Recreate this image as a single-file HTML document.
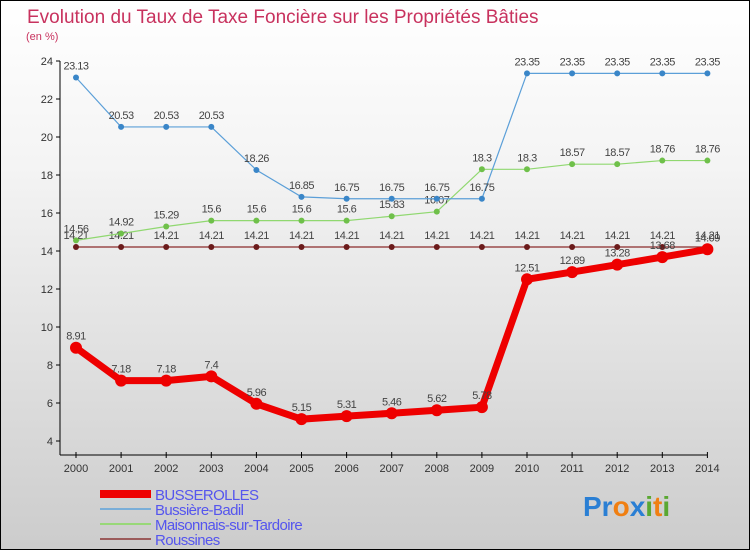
<!DOCTYPE html>
<html><head><meta charset="utf-8"><style>
body{margin:0;width:750px;height:550px;overflow:hidden;font-family:"Liberation Sans",sans-serif}
#wrap{position:absolute;left:0;top:0;width:748px;height:548px;border:1px solid #000;background:linear-gradient(#ffffff,#f4f4f4 30%,#cccccc)}
</style></head><body>
<div id="wrap">
<svg id="chart" width="750" height="550" style="position:absolute;left:-1px;top:-1px">
<text x="27" y="23" font-size="19" fill="#c8325e">Evolution du Taux de Taxe Foncière sur les Propriétés Bâties</text>
<text x="26" y="40" font-size="11" fill="#c8325e">(en %)</text>
<g id="axes"></g><g id="series"></g><g id="legend"></g>
<text x="583" y="516" font-size="28" font-weight="bold"><tspan fill="#2a7fd4">Pr</tspan><tspan fill="#f07f12">o</tspan><tspan fill="#2a7fd4">x</tspan><tspan fill="#5aa832">i</tspan><tspan fill="#f07f12">t</tspan><tspan fill="#5aa832">i</tspan></text>
</svg></div>
<script>
const years=[2000,2001,2002,2003,2004,2005,2006,2007,2008,2009,2010,2011,2012,2013,2014];
const yTicks=[4,6,8,10,12,14,16,18,20,22,24];
const busserolles=[8.91,7.18,7.18,7.4,5.96,5.15,5.31,5.46,5.62,5.78,12.51,12.89,13.28,13.68,14.09];
const bussiere=[23.13,20.53,20.53,20.53,18.26,16.85,16.75,16.75,16.75,16.75,23.35,23.35,23.35,23.35,23.35];
const maisonnais=[14.56,14.92,15.29,15.6,15.6,15.6,15.6,15.83,16.07,18.3,18.3,18.57,18.57,18.76,18.76];
const roussines=[14.21,14.21,14.21,14.21,14.21,14.21,14.21,14.21,14.21,14.21,14.21,14.21,14.21,14.21,14.21];
const NS="http://www.w3.org/2000/svg";
const xs=i=>76+i*45.1;
const ys=v=>441-(v-4)*19;
function mk(tag,attrs,parent,txt){const e=document.createElementNS(NS,tag);for(const k in attrs)e.setAttribute(k,attrs[k]);if(txt!==undefined)e.textContent=txt;parent.appendChild(e);return e;}
const ax=document.getElementById('axes');
let l=mk('line',{x1:60,y1:ys(24),x2:60,y2:455,stroke:'#000'},ax);


l=mk('line',{x1:60,y1:455,x2:xs(14),y2:455,stroke:'#000'},ax);


yTicks.forEach(v=>{
 mk('line',{x1:56,y1:ys(v),x2:60,y2:ys(v),stroke:'#000'},ax);
 const t=mk('text',{x:53,y:ys(v)+4,'font-size':11,fill:'#333','text-anchor':'end'},ax,v);
 
 
});
years.forEach((y,i)=>{
 mk('line',{x1:xs(i),y1:452,x2:xs(i),y2:458,stroke:'#000'},ax);
 const t=mk('text',{x:xs(i),y:472,'font-size':11,fill:'#333','text-anchor':'middle'},ax,y);
 
 
});
const sg=document.getElementById('series');
function series(data,color,w,r,name,dot){
 const g=mk('g',{},sg);
 
 
 mk('polyline',{points:data.map((v,i)=>xs(i)+','+ys(v)).join(' '),fill:'none',stroke:color,'stroke-width':w},g);
 data.forEach((v,i)=>{
  const c=mk('circle',{cx:xs(i),cy:ys(v),r:r,fill:dot},g);
  
  
  const t=mk('text',{x:xs(i),y:ys(v)-8,'font-size':11,fill:'#444','text-anchor':'middle','letter-spacing':'-0.5'},g,String(v));
  
  
 });
}
series(roussines,'#8b2b2b',1.2,3,'roussines-series','#6b1b1b');
series(maisonnais,'#90d870',1.2,3,'maisonnais-series','#6fc04a');
series(bussiere,'#5b9fd8',1.2,3,'bussiere-series','#3a86c8');
series(busserolles,'#ee0000',7,6,'busserolles-series','#ee0000');
const lg=document.getElementById('legend');
const items=[['BUSSEROLLES','#ee0000',8],['Bussière-Badil','#7aaed8',2],['Maisonnais-sur-Tardoire','#98d878',2],['Roussines','#9b5b5b',2]];
items.forEach((it,i)=>{
 const y=494+i*15;
 const g=mk('g',{},lg);
 
 
 mk('line',{x1:100,y1:y,x2:151,y2:y,stroke:it[1],'stroke-width':it[2]},g);
 mk('text',{x:155,y:y+6,'font-size':15,fill:'#5555ee','letter-spacing':'-0.6'},g,it[0]);
});
</script>
</body></html>
